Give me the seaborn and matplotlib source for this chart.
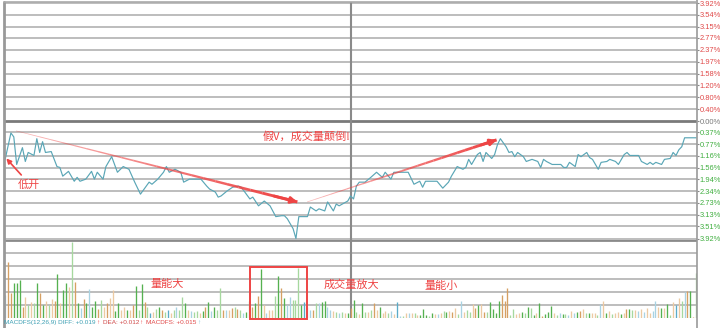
import numpy as np
import pandas as pd
import matplotlib
matplotlib.use("Agg")
import matplotlib.pyplot as plt
from matplotlib.lines import Line2D
from matplotlib.patches import Rectangle
import seaborn as sns

sns.set_style("white")
plt.rcParams['font.family'] = ['Noto Sans CJK SC', 'DejaVu Sans']

# ---------------- data ----------------
# price line: minute index (0..240) and change vs previous close (%)
minutes = [0, 2, 3, 4, 6, 7, 8, 10, 11, 12, 13, 14, 16, 18, 19, 20, 22, 24, 25, 26,
           28, 30, 31, 32, 34, 35, 37, 39, 41, 43, 45, 47, 50, 51, 53, 55, 56, 57, 59, 61,
           62, 64, 68, 70, 71, 73, 74, 75, 77, 79, 81, 82, 83, 85, 86, 88, 90, 92, 94, 96,
           97, 98, 100, 101, 102, 105, 106, 108, 109, 111, 112, 114, 115, 116, 119, 120, 121, 122, 123, 125,
           127, 129, 131, 132, 134, 135, 140, 142, 144, 145, 146, 150, 152, 154, 155, 157, 159, 160, 161, 162,
           164, 165, 166, 167, 169, 170, 171, 172, 174, 175, 176, 177, 178, 180, 181, 183, 185, 186, 187, 188,
           190, 193, 194, 195, 196, 198, 199, 200, 202, 203, 204, 206, 207, 209, 210, 212, 213, 215, 216, 217,
           220, 221, 223, 224, 225, 226, 228, 229, 231, 232, 233, 234, 235, 236, 240]
pct = [-1.28, -0.40, -0.53, -1.45, -0.89, -1.35, -1.05, -1.15, -0.59, -1.05, -0.69, -1.05, -1.02, -1.52, -1.55, -1.84, -1.68, -2.01, -1.88, -2.01,
       -1.94, -1.68, -1.94, -1.71, -1.94, -1.52, -1.19, -1.71, -1.52, -1.61, -2.04, -2.44, -2.04, -2.11, -1.94, -1.71, -1.52, -1.71, -1.61, -1.71,
       -2.04, -1.94, -1.94, -2.17, -2.27, -2.37, -2.54, -2.50, -2.34, -2.21, -2.17, -2.21, -2.34, -2.60, -2.54, -2.83, -2.67, -2.83, -3.19, -3.16,
       -3.16, -3.26, -3.59, -3.92, -3.19, -3.19, -2.87, -3.00, -2.93, -3.00, -2.70, -3.00, -2.77, -2.83, -2.67, -2.50, -2.60, -2.17, -2.04, -2.04,
       -1.88, -1.71, -1.88, -1.71, -1.94, -1.71, -1.71, -2.11, -2.01, -2.21, -2.01, -2.01, -2.24, -2.04, -1.84, -1.52, -1.61, -1.55, -1.28, -1.45,
       -1.12, -1.05, -1.35, -1.05, -1.25, -1.12, -0.79, -0.59, -0.86, -1.05, -1.02, -1.19, -1.05, -1.19, -1.35, -1.28, -1.35, -1.55, -1.28, -1.35,
       -1.45, -1.45, -1.55, -1.55, -1.38, -1.52, -1.12, -1.19, -1.05, -1.22, -1.28, -1.61, -1.38, -1.35, -1.28, -1.35, -1.45, -1.12, -1.05, -1.15,
       -1.15, -1.35, -1.45, -1.38, -1.45, -1.38, -1.45, -1.28, -1.25, -1.05, -1.15, -0.96, -0.86, -0.56, -0.56]

# right axis tick labels
up_ticks = [3.92, 3.54, 3.15, 2.77, 2.37, 1.97, 1.58, 1.20, 0.80, 0.40]
down_ticks = [0.37, 0.77, 1.16, 1.56, 1.94, 2.34, 2.73, 3.13, 3.51, 3.92]

# volume bars (per minute) and colour codes
vol_heights = [23, 56, 25, 35, 35, 38, 11, 21, 13, 16, 15, 35, 25, 13, 17, 13, 19, 17, 44, 15,
               28, 35, 31, 76, 36, 15, 10, 19, 15, 29, 11, 17, 9, 18, 11, 15, 20, 28, 7, 15,
               8, 11, 8, 8, 13, 32, 8, 34, 16, 11, 5, 6, 9, 11, 8, 6, 8, 5, 8, 11,
               8, 21, 15, 8, 7, 6, 7, 5, 7, 11, 16, 7, 11, 8, 30, 8, 8, 8, 10, 11,
               9, 8, 5, 6, 17, 11, 15, 22, 49, 13, 5, 8, 8, 22, 42, 30, 20, 13, 21, 18,
               18, 50, 13, 16, 11, 8, 8, 15, 15, 16, 17, 11, 8, 7, 6, 5, 6, 5, 5, 10,
               18, 6, 4,
               15, 6, 6, 8, 15, 8, 11, 5, 7, 5, 7, 4, 16, 2, 2, 5, 5, 5, 5, 3,
               3, 9, 3, 2, 5, 4, 4, 5, 7, 6, 7, 6, 10, 4, 17, 6, 8, 6, 14, 10,
               13, 14, 6, 6, 16, 9, 5, 17, 23, 17, 30, 3, 9, 4, 5, 6, 5, 11, 10, 3,
               5, 15, 2, 4, 6, 12, 5, 3, 5, 4, 4, 3, 7, 5, 6, 7, 9, 5, 5, 5,
               5, 3, 14, 17, 5, 7, 4, 5, 6, 4, 5, 9, 9, 8, 8, 7, 9, 6, 10, 5,
               7, 17, 11, 10, 10, 14, 3, 16, 13, 20, 17, 26, 27, 27, 1, 45]
vol_colors = ("BoogggoOGOGgogOGOogO"
              "ggOGogBogBggoGOoOOgg"
              "OOgOogGgoGbOGgoGbOGB"
              "GGgOBGGOgogBgGGoBOoG"
              "oGBgGogogOBOOGgogBBG"
              "GGgbBBoGBggBBOGBGOgo"
              "gGO"
              "gGOGoOgOOGBObBGOBOGO"
              "gggGgOBOGgOoOGBOGGOo"
              "gOoGggggoooGGOOgGgGg"
              "OgogggOGBgGBOBgoOGgO"
              "OGBOgOGOOgOogGOBOBOO"
              "BBOgOgGObOGBogoGgOoO"
              "ogB")

palette = {'g': '#55b150', 'G': '#a6d89e', 'o': '#d6a063', 'O': '#eccaa2',
           'b': '#5aabc8', 'B': '#a9d3e3'}
RED = '#ee4444'

# ---------------- figure ----------------
fig = plt.figure(figsize=(7.2, 3.28), dpi=100)
fig.patch.set_facecolor('white')
ax = fig.add_axes([4 / 720, 1 - 240 / 328, 693 / 720, 238 / 328])
axv = fig.add_axes([4 / 720, 10 / 328, 693 / 720, 78 / 328])

df = pd.DataFrame({'minute': minutes, 'pct': pct})
grid_c = '#b2b2b2'

for a in (ax, axv):
    a.set_facecolor('white')
    a.set_xlim(-0.4, 240.3)
    for s in ('top', 'bottom', 'left', 'right'):
        a.spines[s].set_visible(False)
    a.set_xticks([])

# main panel grid lines
for v in up_ticks:
    ax.axhline(v, color=grid_c, lw=1.2, zorder=1)
for v in down_ticks:
    ax.axhline(-v, color=grid_c, lw=1.2, zorder=1)
ax.axhline(0, color='#7a7a7a', lw=2.0, zorder=2)
ax.axvline(120, color='#8a8a8a', lw=1.5, zorder=2)

sns.lineplot(data=df, x='minute', y='pct', ax=ax, color='#5aa6b6', lw=0.85, zorder=4)
ax.set_ylim(-3.97, 3.97)
ax.set_xlabel('')
ax.set_ylabel('')

# right tick labels
yt = up_ticks + [0.0] + [-v for v in down_ticks]
ylab = [f"{v:.2f}%" for v in up_ticks] + ["0.00%"] + [f"{v:.2f}%" for v in down_ticks]
ax.yaxis.tick_right()
ax.set_yticks(yt)
ax.set_yticklabels(ylab)
ax.tick_params(axis='y', length=1.5, width=0.8, color='#888888', pad=0.5, labelsize=5.4)
for lbl, v in zip(ax.get_yticklabels(), yt):
    lbl.set_fontfamily(['Liberation Sans', 'DejaVu Sans'])
    lbl.set_color('#e04848' if v > 0 else ('#777777' if v == 0 else '#3fae3f'))

# volume panel
vol_x = np.linspace(0, 240, len(vol_heights))
vcols = [palette[c] for c in vol_colors[:len(vol_heights)]]
for v in (13, 26, 39, 52, 65):
    axv.axhline(v, color=grid_c, lw=1.2, zorder=1)
axv.axhline(78, color='#8a8a8a', lw=2.0, zorder=2)
axv.axvline(120, color='#8a8a8a', lw=1.5, zorder=2)
axv.vlines(vol_x, 0, vol_heights, colors=vcols, lw=0.95, zorder=3)
axv.set_ylim(0, 78.5)
axv.set_yticks([])

# borders extending to bottom
fig.add_artist(Line2D([3.5 / 720, 3.5 / 720], [0, 1 - 2 / 328], color='#999999', lw=2.0))
fig.add_artist(Line2D([697 / 720, 697 / 720], [0, 1], color='#999999', lw=1.2))
fig.add_artist(Line2D([4 / 720, 697 / 720], [1 - 2 / 328, 1 - 2 / 328], color='#aaaaaa', lw=1.2))

# annotations on price panel
def taper_arrow(a, x0, y0, x1, y1, n=24):
    xs = np.linspace(x0, x1, n + 1)
    ys = np.linspace(y0, y1, n + 1)
    for i in range(n):
        t = (i + 1) / n
        a.plot(xs[i:i + 2], ys[i:i + 2], color=RED, lw=0.4 + 1.8 * t,
               alpha=0.35 + 0.65 * t, solid_capstyle='butt', zorder=5)
    a.annotate('', xy=(x1, y1), xytext=(xs[-3], ys[-3]),
               arrowprops=dict(arrowstyle='-|>', color=RED, lw=2.0,
                               mutation_scale=9, shrinkA=0, shrinkB=0), zorder=6)

taper_arrow(ax, 3.8, -0.33, 101.5, -2.70)
taper_arrow(ax, 104.9, -2.70, 170.7, -0.63)
ax.annotate('', xy=(0.4, -1.25), xytext=(5.6, -1.80),
            arrowprops=dict(arrowstyle='-|>', color=RED, lw=1.2, mutation_scale=7,
                            shrinkA=0, shrinkB=0), zorder=6)
ax.text(4.4, -2.13, '低开', color=RED, fontsize=8, va='center', ha='left', zorder=6)
ax.text(89.4, -0.53, '假V，成交量颠倒!', color=RED, fontsize=8, va='center', ha='left', zorder=6)

# annotations on volume panel
axv.text(50.5, 34, '量能大', color=RED, fontsize=8, va='center', ha='left', zorder=6)
axv.text(110.5, 34, '成交量放大', color=RED, fontsize=8, va='center', ha='left', zorder=6)
axv.text(145.8, 32, '量能小', color=RED, fontsize=8, va='center', ha='left', zorder=6)
axv.add_patch(Rectangle((85.2, -0.8), 19.7, 52.5, fill=False, ec=RED, lw=1.4,
                        clip_on=False, zorder=7))

# bottom indicator text
parts = [("MACDFS(12,26,9) DIFF: +0.019", '#3c9fb3'), ("↑", RED),
         ("DEA: +0.012", '#d04848'), ("↑", RED),
         ("MACDFS: +0.015", '#e04848'), ("↑", '#7fc3d8')]
gaps = [0.5, 3.0, 0.5, 3.0, 0.5, 0]
x = 4.5 / 720
renderer = fig.canvas.get_renderer()
for (s, c), g in zip(parts, gaps):
    t = fig.text(x, 1 - 322.5 / 328, s, color=c, fontsize=4.6,
                 family=['Liberation Sans', 'DejaVu Sans'], va='center', ha='left')
    bb = t.get_window_extent(renderer=renderer)
    x += (bb.width + g) / 720

fig.savefig('out.png', dpi=100, facecolor='white')
